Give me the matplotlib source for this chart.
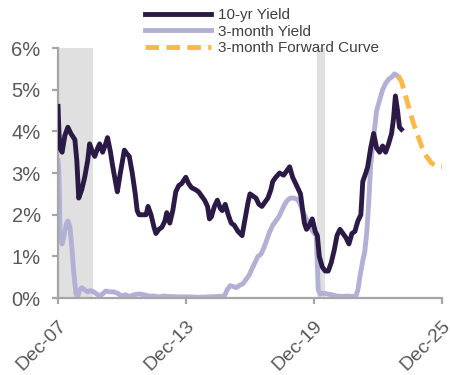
import matplotlib
matplotlib.use("Agg")
import matplotlib.pyplot as plt
import matplotlib.transforms as mtransforms

plt.rcParams['font.family'] = ['Liberation Sans', 'DejaVu Sans']

# 10-year treasury yield (%), decimal year
ten_yr_t = [2007.92, 2007.96, 2008.01, 2008.11, 2008.24, 2008.38, 2008.52, 2008.71, 2008.80, 2008.89,
            2009.03, 2009.17, 2009.31, 2009.40, 2009.54, 2009.64, 2009.78, 2009.87, 2010.01, 2010.15,
            2010.24, 2010.38, 2010.47, 2010.61, 2010.70, 2010.84, 2011.03, 2011.17, 2011.26, 2011.40,
            2011.54, 2011.63, 2011.72, 2011.86, 2012.05, 2012.14, 2012.28, 2012.42, 2012.51, 2012.65,
            2012.79, 2012.93, 2013.02, 2013.16, 2013.30, 2013.44, 2013.58, 2013.72, 2013.91, 2014.04,
            2014.18, 2014.37, 2014.51, 2014.65, 2014.79, 2014.93, 2015.02, 2015.11, 2015.25, 2015.39,
            2015.53, 2015.62, 2015.76, 2015.90, 2016.04, 2016.18, 2016.36, 2016.55, 2016.69, 2016.83,
            2016.92, 2017.06, 2017.20, 2017.34, 2017.48, 2017.62, 2017.76, 2017.90, 2017.99, 2018.13,
            2018.31, 2018.50, 2018.64, 2018.78, 2018.92, 2019.06, 2019.20, 2019.29, 2019.38, 2019.47,
            2019.57, 2019.71, 2019.84, 2019.98, 2020.08, 2020.17, 2020.31, 2020.45, 2020.59, 2020.73,
            2020.87, 2021.00, 2021.14, 2021.28, 2021.42, 2021.56, 2021.70, 2021.84, 2021.98, 2022.12,
            2022.21, 2022.35, 2022.44, 2022.58, 2022.72, 2022.86, 2023.00, 2023.14, 2023.28, 2023.42,
            2023.56, 2023.65, 2023.74, 2023.84, 2023.93, 2024.02]
ten_yr = [4.6, 4.0, 3.6, 3.5, 3.9, 4.1, 3.95, 3.8, 3.3, 2.4,
          2.6, 2.9, 3.3, 3.7, 3.5, 3.4, 3.6, 3.7, 3.5, 3.7,
          3.85, 3.5, 3.2, 2.8, 2.55, 3.0, 3.55, 3.45, 3.4, 3.0,
          2.5, 2.1, 2.0, 2.0, 2.0, 2.2, 2.0, 1.7, 1.55, 1.65,
          1.7, 1.85, 2.05, 1.8, 2.1, 2.55, 2.7, 2.75, 2.9, 2.75,
          2.65, 2.6, 2.55, 2.45, 2.35, 2.2, 1.9, 1.95, 2.2, 2.35,
          2.15, 2.1, 2.25, 2.0, 1.8, 1.75, 1.6, 1.5, 1.9, 2.3,
          2.5, 2.45, 2.4, 2.25, 2.2, 2.3, 2.4, 2.6, 2.8, 2.9,
          3.0, 2.95, 3.05, 3.15, 2.9, 2.75, 2.6, 2.5, 2.15, 1.8,
          1.65, 1.75, 1.9, 1.6, 1.5, 1.0, 0.75, 0.65, 0.65, 0.85,
          1.15, 1.5, 1.65, 1.55, 1.45, 1.3, 1.55, 1.6, 1.85, 2.0,
          2.8, 3.0, 3.15, 3.6, 3.95, 3.6, 3.5, 3.65, 3.5, 3.7,
          3.95, 4.3, 4.85, 4.5, 4.1, 4.05]

# 3-month treasury yield (%)
three_m_t = [2007.92, 2007.96, 2007.99, 2008.01, 2008.11, 2008.20, 2008.29, 2008.38, 2008.48, 2008.57,
             2008.66, 2008.76, 2008.85, 2008.94, 2009.03, 2009.17, 2009.31, 2009.45, 2009.59, 2009.73,
             2009.87, 2010.01, 2010.15, 2010.33, 2010.52, 2010.70, 2010.89, 2011.08, 2011.26, 2011.49,
             2011.72, 2011.96, 2012.19, 2012.42, 2012.65, 2012.88, 2013.12, 2013.58, 2014.04, 2014.51,
             2014.97, 2015.44, 2015.72, 2015.85, 2015.99, 2016.13, 2016.27, 2016.41, 2016.60, 2016.74,
             2016.88, 2017.01, 2017.15, 2017.29, 2017.43, 2017.57, 2017.71, 2017.85, 2017.99, 2018.13,
             2018.27, 2018.41, 2018.55, 2018.68, 2018.82, 2018.96, 2019.10, 2019.24, 2019.38, 2019.52,
             2019.66, 2019.80, 2019.94, 2020.03, 2020.08, 2020.12, 2020.22, 2020.36, 2020.54, 2020.77,
             2021.00, 2021.24, 2021.47, 2021.70, 2021.89, 2021.98, 2022.07, 2022.21, 2022.30, 2022.40,
             2022.49, 2022.58, 2022.68, 2022.77, 2022.86, 2023.00, 2023.14, 2023.28, 2023.42, 2023.56,
             2023.70, 2023.79, 2023.88]
three_m = [3.3, 3.0, 2.3, 1.5, 1.3, 1.5, 1.75, 1.85, 1.7, 1.2,
           0.6, 0.1, 0.05, 0.2, 0.25, 0.2, 0.15, 0.18, 0.15, 0.1,
           0.05, 0.1, 0.17, 0.15, 0.15, 0.12, 0.05, 0.08, 0.04, 0.08,
           0.1, 0.08, 0.05, 0.05, 0.03, 0.05, 0.04, 0.03, 0.03, 0.02,
           0.03, 0.04, 0.05, 0.2, 0.3, 0.28, 0.25, 0.3, 0.35, 0.45,
           0.55, 0.7, 0.85, 1.0, 1.05, 1.2, 1.4, 1.6, 1.75, 1.85,
           1.95, 2.1, 2.25, 2.35, 2.4, 2.4, 2.38, 2.3, 2.1, 1.95,
           1.8, 1.65, 1.55, 1.5, 0.8, 0.2, 0.1, 0.12, 0.1, 0.08,
           0.05, 0.04, 0.05, 0.04, 0.05, 0.2, 0.5, 0.9, 1.1, 1.6,
           2.3, 3.2, 3.7, 4.1, 4.5, 4.75, 5.0, 5.15, 5.25, 5.3,
           5.38, 5.35, 5.3]

# 3-month forward curve (%)
fwd_t = [2023.88, 2024.02, 2024.16, 2024.30, 2024.44, 2024.58, 2024.72, 2024.86, 2025.00, 2025.13,
         2025.27, 2025.41, 2025.55, 2025.74, 2025.92]
fwd = [5.33, 5.2, 4.95, 4.7, 4.45, 4.2, 4.0, 3.8, 3.6, 3.45,
       3.35, 3.25, 3.2, 3.15, 3.15]

# recession periods
recessions = [(2007.92, 2009.58), (2020.06, 2020.46)]

tick_pos = [2007.92, 2013.92, 2019.92, 2025.92]
tick_labels = ['Dec-07', 'Dec-13', 'Dec-19', 'Dec-25']

fig = plt.figure(figsize=(4.5, 3.75), dpi=100)
ax = fig.add_axes([0.129, 0.205, 0.853, 0.667])

for start, end in recessions:
    ax.axvspan(start, end, color='#E0E0E0', lw=0, zorder=0)

ax.plot(ten_yr_t, ten_yr, color='#2B1A45', lw=3.5, label='10-yr Yield', solid_joinstyle='round', zorder=3)
ax.plot(three_m_t, three_m, color='#B4AFD4', lw=3.5, label='3-month Yield', solid_joinstyle='round', zorder=2)
ax.plot(fwd_t, fwd, color='#FDB84A', lw=3.5, ls=(0, (2.8, 1.5)), label='3-month Forward Curve', zorder=2)

ax.set_xlim(2007.92, 2025.92)
ax.set_ylim(0, 6)
ax.set_yticks(range(7))
ax.set_yticklabels([f'{v}%' for v in range(7)])
ax.set_xticks(tick_pos)
ax.set_xticklabels(tick_labels, rotation=45, ha='right', rotation_mode='anchor', fontsize=14)
shift = mtransforms.ScaledTranslation(-4 / 72, 0, fig.dpi_scale_trans)
for lbl in ax.get_xticklabels():
    lbl.set_transform(lbl.get_transform() + shift)

for side in ['top', 'right']:
    ax.spines[side].set_visible(False)
for side in ['left', 'bottom']:
    ax.spines[side].set_color('#A6A6A6')
    ax.spines[side].set_linewidth(1.6)
ax.tick_params(colors='#A6A6A6', labelcolor='#595959', length=4.5, width=1.6)
ax.tick_params(axis='y', pad=8, labelsize=14.5)
ax.tick_params(axis='x', pad=9)

fig.legend(loc='upper left', bbox_to_anchor=(0.303, 1.0), frameon=False, fontsize=11,
           handlelength=4.35, handletextpad=0.45, labelspacing=0.15, borderpad=0.05,
           labelcolor='#404040')

fig.savefig('out.png', dpi=100)
